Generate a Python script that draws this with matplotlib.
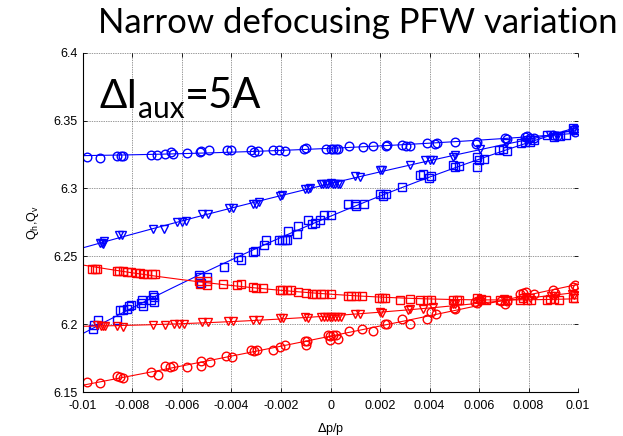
import numpy as np
import matplotlib
matplotlib.use("Agg")
import matplotlib.pyplot as plt

plt.rcParams['font.family'] = ['Liberation Sans', 'DejaVu Sans']

# ---- measured tunes vs momentum offset ----
# blue: Q (upper family); red: Q (lower family)
bc_x = [-0.00983, -0.00931, -0.00861, -0.00848, -0.00837, -0.00726, -0.00700, -0.00669,
        -0.00646, -0.00638, -0.00581, -0.00527, -0.00522, -0.00490, -0.00419, -0.00401,
        -0.00322, -0.00309, -0.00293, -0.00234, -0.00207, -0.00183, -0.00107, -0.00099,
        -0.00017, 0.00000, 0.00010, 0.00021, 0.00032, 0.00074, 0.00130, 0.00173,
        0.00224, 0.00230, 0.00289, 0.00305, 0.00321, 0.00389, 0.00421, 0.00431,
        0.00504, 0.00591, 0.00588, 0.00703, 0.00712, 0.00787, 0.00793, 0.00806,
        0.00822, 0.00900, 0.00914, 0.00981, 0.00987, 0.00988]
bc_y = [6.3231, 6.3221, 6.3241, 6.3241, 6.3241, 6.3246, 6.3250, 6.3255,
        6.3270, 6.3255, 6.3260, 6.3265, 6.3275, 6.3280, 6.3280, 6.3285,
        6.3280, 6.3265, 6.3275, 6.3285, 6.3280, 6.3275, 6.3290, 6.3300,
        6.3290, 6.3294, 6.3294, 6.3294, 6.3294, 6.3309, 6.3305, 6.3309,
        6.3314, 6.3319, 6.3319, 6.3314, 6.3309, 6.3334, 6.3329, 6.3334,
        6.3344, 6.3344, 6.3330, 6.3368, 6.3363, 6.3378, 6.3388, 6.3368,
        6.3368, 6.3393, 6.3388, 6.3427, 6.3417, 6.3435]

bt_x = [-0.00931, -0.00923, -0.00918, -0.00915, -0.00856, -0.00842, -0.00716, -0.00673,
        -0.00622, -0.00600, -0.00582, -0.00519, -0.00495, -0.00409, -0.00395, -0.00314,
        -0.00301, -0.00287, -0.00206, -0.00196, -0.00103, -0.00091, -0.00082,
        -0.00040, -0.00030, -0.00020, -0.00010, 0.00000, 0.00010, 0.00020, 0.00030, 0.00040,
        0.00099, 0.00120, 0.00201, 0.00209, 0.00323, 0.00380, 0.00402, 0.00415,
        0.00496, 0.00504, 0.00602, 0.00709, 0.00793, 0.00806, 0.00887, 0.00914, 0.00981]
bt_y = [6.2599, 6.2596, 6.2594, 6.2611, 6.2658, 6.2658, 6.2702, 6.2702,
        6.2756, 6.2750, 6.2761, 6.2814, 6.2809, 6.2853, 6.2853, 6.2888,
        6.2888, 6.2903, 6.2947, 6.2952, 6.2996, 6.2998, 6.3000,
        6.3035, 6.3035, 6.3033, 6.3035, 6.3037, 6.3035, 6.3033, 6.3035, 6.3036,
        6.3094, 6.3084, 6.3133, 6.3133, 6.3172, 6.3206, 6.3206, 6.3206,
        6.3231, 6.3248, 6.3290, 6.3336, 6.3358, 6.3358, 6.3397, 6.3388, 6.3432]

bs_x = [-0.00960, -0.00954, -0.00941, -0.00861, -0.00852, -0.00840, -0.00823, -0.00813,
        -0.00805, -0.00767, -0.00762, -0.00759, -0.00726, -0.00713, -0.00713, -0.00716,
        -0.00530, -0.00527, -0.00500, -0.00524, -0.00432, -0.00374, -0.00360, -0.00313,
        -0.00305, -0.00268, -0.00262, -0.00208, -0.00195, -0.00184, -0.00176, -0.00135,
        -0.00170, -0.00130, -0.00090, -0.00076, -0.00063, -0.00041, -0.00025, 0.00002,
        0.00072, 0.00099, 0.00104, 0.00134, 0.00201, 0.00212, 0.00225, 0.00288,
        0.00362, 0.00375, 0.00405, 0.00399, 0.00496, 0.00504, 0.00518, 0.00591,
        0.00599, 0.00620, 0.00591, 0.00682, 0.00714, 0.00696, 0.00771, 0.00787,
        0.00806, 0.00822, 0.00873, 0.00903, 0.00927, 0.00951, 0.00981, 0.00994]
bs_y = [6.1965, 6.1993, 6.2032, 6.2034, 6.2103, 6.2105, 6.2109, 6.2131,
        6.2140, 6.2155, 6.2175, 6.2131, 6.2180, 6.2199, 6.2165, 6.2214,
        6.2361, 6.2344, 6.2351, 6.2300, 6.2420, 6.2493, 6.2474, 6.2528,
        6.2537, 6.2581, 6.2621, 6.2621, 6.2621, 6.2621, 6.2621, 6.2665,
        6.2689, 6.2726, 6.2765, 6.2740, 6.2746, 6.2770, 6.2805, 6.2805,
        6.2883, 6.2888, 6.2868, 6.2883, 6.2956, 6.2947, 6.2961, 6.3010,
        6.3099, 6.3108, 6.3094, 6.3074, 6.3172, 6.3158, 6.3167, 6.3231,
        6.3206, 6.3216, 6.3158, 6.3285, 6.3275, 6.3290, 6.3334, 6.3344,
        6.3344, 6.3358, 6.3397, 6.3378, 6.3388, 6.3393, 6.3447, 6.3432]

rs_x = [-0.00964, -0.00953, -0.00942, -0.00864, -0.00853, -0.00838, -0.00822, -0.00806,
        -0.00786, -0.00770, -0.00756, -0.00743, -0.00721, -0.00710, -0.00533, -0.00529,
        -0.00499, -0.00497, -0.00434, -0.00376, -0.00363, -0.00312, -0.00299, -0.00271,
        -0.00205, -0.00195, -0.00176, -0.00161, -0.00130, -0.00098, -0.00076, -0.00057,
        -0.00038, -0.00027, 0.00002, 0.00069, 0.00083, 0.00104, 0.00126, 0.00196,
        0.00207, 0.00220, 0.00282, 0.00321, 0.00362, 0.00389, 0.00407, 0.00496,
        0.00510, 0.00518, 0.00591, 0.00610, 0.00628, 0.00685, 0.00712, 0.00766,
        0.00779, 0.00795, 0.00809, 0.00873, 0.00887, 0.00903, 0.00922, 0.00981, 0.00987]
rs_y = [6.2408, 6.2408, 6.2408, 6.2395, 6.2388, 6.2388, 6.2381, 6.2381,
        6.2379, 6.2379, 6.2373, 6.2368, 6.2368, 6.2368, 6.2318, 6.2293,
        6.2315, 6.2290, 6.2293, 6.2290, 6.2295, 6.2276, 6.2270, 6.2265,
        6.2254, 6.2254, 6.2254, 6.2254, 6.2239, 6.2229, 6.2224, 6.2224,
        6.2224, 6.2224, 6.2219, 6.2210, 6.2210, 6.2210, 6.2210, 6.2190,
        6.2190, 6.2190, 6.2180, 6.2185, 6.2180, 6.2180, 6.2180, 6.2175,
        6.2175, 6.2175, 6.2190, 6.2185, 6.2180, 6.2180, 6.2180, 6.2180,
        6.2190, 6.2180, 6.2180, 6.2175, 6.2185, 6.2185, 6.2180, 6.2195, 6.2190]

rt_x = [-0.00945, -0.00929, -0.00918, -0.00910, -0.00861, -0.00838, -0.00716, -0.00670,
        -0.00631, -0.00613, -0.00592, -0.00520, -0.00496, -0.00413, -0.00395, -0.00312,
        -0.00290, -0.00206, -0.00191, -0.00105, -0.00089,
        -0.00040, -0.00028, -0.00016, -0.00004, 0.00008, 0.00020, 0.00032, 0.00044,
        0.00099, 0.00120, 0.00201, 0.00207, 0.00315, 0.00323, 0.00375, 0.00415,
        0.00496, 0.00505, 0.00598, 0.00604, 0.00700, 0.00712, 0.00790, 0.00805,
        0.00890, 0.00905, 0.00975, 0.00985]
rt_y = [6.1991, 6.1990, 6.1984, 6.1990, 6.1983, 6.1980, 6.1997, 6.1997,
        6.2004, 6.2004, 6.2004, 6.2019, 6.2015, 6.2026, 6.2022, 6.2034,
        6.2029, 6.2043, 6.2046, 6.2054, 6.2046,
        6.2052, 6.2050, 6.2052, 6.2053, 6.2052, 6.2050, 6.2052, 6.2054,
        6.2077, 6.2072, 6.2087, 6.2082, 6.2107, 6.2111, 6.2114, 6.2123,
        6.2150, 6.2145, 6.2170, 6.2165, 6.2185, 6.2180, 6.2200, 6.2195,
        6.2205, 6.2210, 6.2220, 6.2215]

rc_x = [-0.00984, -0.00931, -0.00864, -0.00851, -0.00840, -0.00726, -0.00698, -0.00670,
        -0.00648, -0.00636, -0.00581, -0.00522, -0.00523, -0.00488, -0.00421, -0.00398,
        -0.00321, -0.00308, -0.00295, -0.00233, -0.00206, -0.00185, -0.00105, -0.00100,
        -0.00093, -0.00012, -0.00001, 0.00010, 0.00024, -0.00002, 0.00029, 0.00073,
        0.00128, 0.00173, 0.00221, 0.00228, 0.00289, 0.00322, 0.00388, 0.00425,
        0.00407, 0.00498, 0.00503, 0.00585, 0.00593, 0.00604, 0.00690, 0.00705,
        0.00712, 0.00766, 0.00779, 0.00790, 0.00822, 0.00899, 0.00909, 0.00981,
        0.00989, 0.00994]
rc_y = [6.1576, 6.1566, 6.1620, 6.1607, 6.1602, 6.1649, 6.1622, 6.1688,
        6.1686, 6.1688, 6.1682, 6.1732, 6.1688, 6.1718, 6.1767, 6.1760,
        6.1806, 6.1800, 6.1806, 6.1806, 6.1835, 6.1846, 6.1877, 6.1850,
        6.1879, 6.1923, 6.1914, 6.1923, 6.1923, 6.1882, 6.1887, 6.1953,
        6.1963, 6.1953, 6.2000, 6.2004, 6.2037, 6.2002, 6.2039, 6.2074,
        6.2087, 6.2118, 6.2112, 6.2162, 6.2157, 6.2175, 6.2170, 6.2147,
        6.2170, 6.2219, 6.2229, 6.2234, 6.2219, 6.2254, 6.2229, 6.2274,
        6.2287, 6.2263]

x_ticks = [-0.01, -0.008, -0.006, -0.004, -0.002, 0, 0.002, 0.004, 0.006, 0.008, 0.01]
x_tick_labels = ['-0.01', '-0.008', '-0.006', '-0.004', '-0.002', '0',
                 '0.002', '0.004', '0.006', '0.008', '0.01']
y_ticks = [6.15, 6.2, 6.25, 6.3, 6.35, 6.4]
y_tick_labels = ['6.15', '6.2', '6.25', '6.3', '6.35', '6.4']

BLUE = '#0000ff'
RED = '#ff0000'
series = [
    (bc_x, bc_y, 'o', BLUE),
    (bt_x, bt_y, 'v', BLUE),
    (bs_x, bs_y, 's', BLUE),
    (rs_x, rs_y, 's', RED),
    (rt_x, rt_y, 'v', RED),
    (rc_x, rc_y, 'o', RED),
]

W, H = 623, 436
fig = plt.figure(figsize=(W / 100, H / 100), dpi=100)
ax = fig.add_axes([0.1332, 0.1009, 0.7946, 0.7782])

xfit = np.linspace(x_ticks[0], x_ticks[-1], 200)
for xs, ys, mk, col in series:
    xs = np.asarray(xs)
    ys = np.asarray(ys)
    pts, = ax.plot(xs, ys, linestyle='none', marker=mk, markersize=6.2, color=col,
                   markerfacecolor='none', markeredgecolor=col, markeredgewidth=1.0)
    pts.set_snap(False)
    coef = np.polyfit(xs, ys, 2)
    ax.plot(xfit, np.polyval(coef, xfit), color=col, linewidth=0.8)

ax.set_xlim(x_ticks[0], x_ticks[-1])
ax.set_ylim(y_ticks[0], y_ticks[-1])
ax.set_xticks(x_ticks)
ax.set_xticklabels(x_tick_labels)
ax.set_yticks(y_ticks)
ax.set_yticklabels(y_tick_labels)
ax.tick_params(direction='in', length=3, width=0.6, labelsize=9,
               top=True, right=True)
ax.tick_params(axis='x', pad=6)
ax.tick_params(axis='y', pad=4)
ax.grid(True, color='black', linestyle=(0, (1, 1.5)), linewidth=0.5, alpha=0.8)

for side in ['top', 'right']:
    ax.spines[side].set_visible(False)
for side in ['left', 'bottom']:
    ax.spines[side].set_linewidth(0.8)

ax.set_xlabel(r'$\Delta$p/p', fontsize=9, labelpad=6)
ax.set_ylabel(r'Q$_\mathregular{h}$,Q$_\mathregular{v}$', fontsize=9, labelpad=9)

title_font = ['Lato', 'DejaVu Sans']
fig.text(358 / W, 1 - 33 / H, 'Narrow defocusing PFW variation', family=title_font,
         fontsize=25, ha='center', va='baseline')

# current label: main part, lowered subscript, then value
fig.text(100 / W, 1 - 108 / H, '\u0394I', family=title_font, fontsize=29,
         ha='left', va='baseline')
fig.text(138 / W, 1 - 118 / H, 'aux', family=title_font, fontsize=21.5,
         ha='left', va='baseline')
fig.text(185 / W, 1 - 108 / H, '=5A', family=title_font, fontsize=30,
         ha='left', va='baseline')

fig.savefig('out.png', dpi=100)
